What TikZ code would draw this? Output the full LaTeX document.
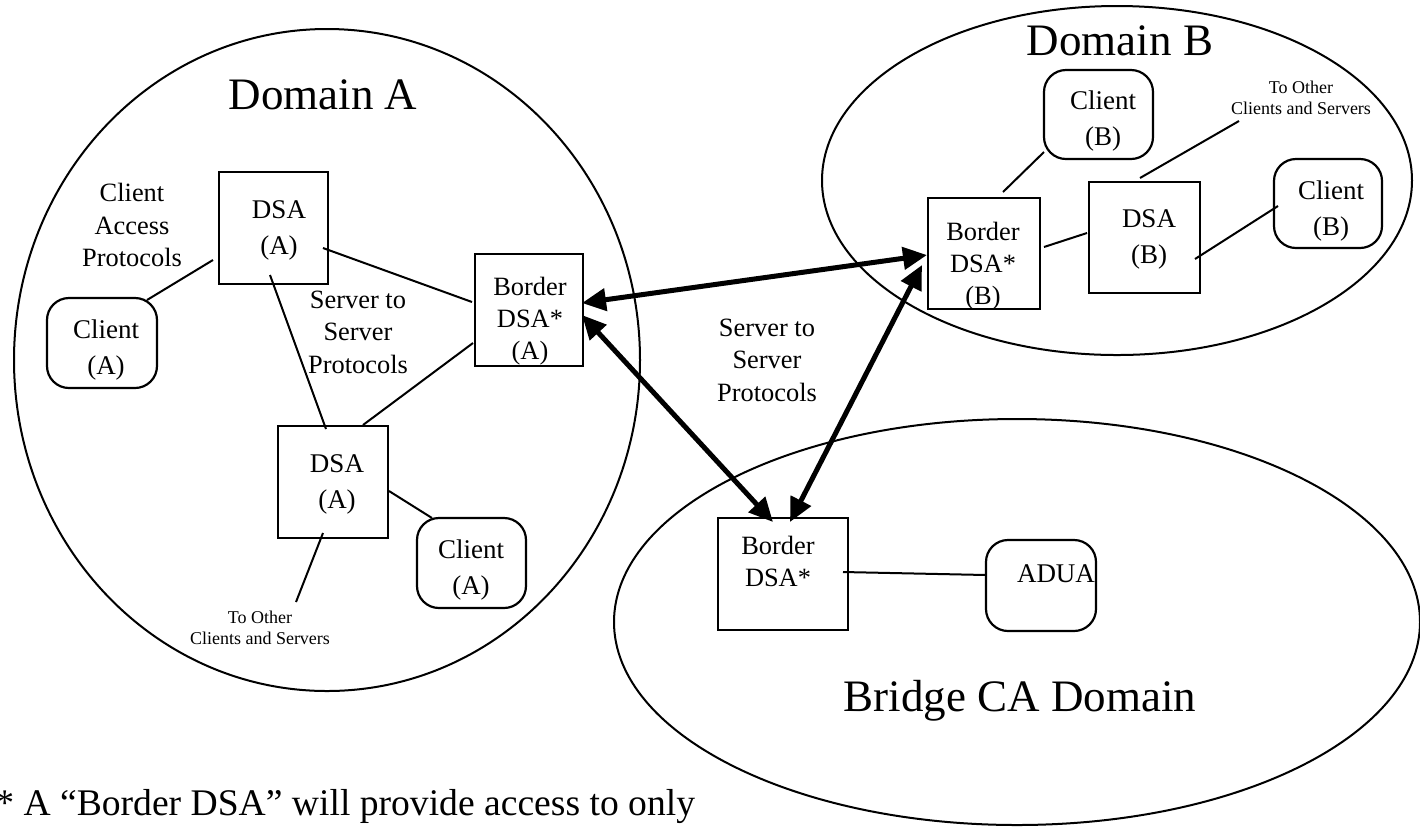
\documentclass[tikz,border=0pt]{standalone}
\usepackage{fontspec}
\setmainfont{Liberation Serif}
\usetikzlibrary{arrows.meta,calc}
\begin{document}
\begin{tikzpicture}[x=0.5pt,y=-0.5pt,
  dom/.style={line width=1pt},
  box/.style={draw, line width=1.1pt, inner sep=0pt},
  cli/.style={box, rounded corners=11pt},
  btxt/.style={align=center, inner sep=0pt, font=\fontsize{13.5}{18}\selectfont},
  bdtxt/.style={align=center, inner sep=0pt, font=\fontsize{13.2}{16}\selectfont},
  lbl/.style={align=center, inner sep=0pt, font=\fontsize{13.2}{16.2}\selectfont},
  small/.style={align=center, inner sep=0pt, font=\fontsize{9}{10.6}\selectfont},
  big/.style={inner sep=0pt, anchor=base, font=\fontsize{22.5}{27}\selectfont},
  link/.style={line width=1pt},
  proto/.style={line width=2.5pt, {Triangle[length=12pt,width=11pt]}-{Triangle[length=12pt,width=11pt]}}
]
\useasboundingbox (0,0) rectangle (1420,827);

% domain outlines
\draw[dom] (327,360) ellipse [x radius=313, y radius=331];
\draw[dom] (1117,180.5) ellipse [x radius=295, y radius=174.5];
\draw[dom] (1017,622) ellipse [x radius=403, y radius=203];

% domain titles
\node[big] (tDomA) at (323,109) {Domain A};
\node[big] (tDomB) at (1120,55) {Domain B};
\node[big] (tBridge) at (1020,711) {Bridge CA Domain};

% Domain A
\node[box, minimum width=54.5pt, minimum height=56pt] (dA1) at (273.5,228) {};
\node[btxt] (tdA1) at (279,230) {DSA\\(A)};
\node[cli, minimum width=55pt, minimum height=45pt] (cA1) at (102,343) {};
\node[btxt] (tcA1) at (106,350) {Client\\(A)};
\node[box, minimum width=54pt, minimum height=56pt] (bA) at (529,310) {};
\node[bdtxt] (tbA) at (530,321) {Border\\DSA*\\(A)};
\node[box, minimum width=55pt, minimum height=56pt] (dA2) at (333,482) {};
\node[btxt] (tdA2) at (337,484) {DSA\\(A)};
\node[cli, minimum width=54.5pt, minimum height=45pt] (cA2) at (471.5,563) {};
\node[btxt] (tcA2) at (471,570) {Client\\(A)};

\node[lbl] (lCAP) at (132,225) {Client\\Access\\Protocols};
\node[lbl] (lSSA) at (358,332) {Server to\\Server\\Protocols};
\node[small] (lOthA) at (260,628) {To Other\\Clients and Servers};
\coordinate (toA) at (296,602);

% Domain B
\node[cli, minimum width=54.5pt, minimum height=44.5pt] (cB1) at (1098.5,114.5) {};
\node[btxt] (tcB1) at (1103,121) {Client\\(B)};
\node[box, minimum width=56pt, minimum height=55.5pt] (bB) at (984,253.5) {};
\node[bdtxt] (tbB) at (983,266) {Border\\DSA*\\(B)};
\node[box, minimum width=55.5pt, minimum height=55.5pt] (dB) at (1144.5,237.5) {};
\node[btxt] (tdB) at (1149,239) {DSA\\(B)};
\node[cli, minimum width=54pt, minimum height=44.5pt] (cB2) at (1328,203.5) {};
\node[btxt] (tcB2) at (1331,211) {Client\\(B)};
\node[small] (lOthB) at (1301,98) {To Other\\Clients and Servers};
\coordinate (toB) at (1239,121);

% Bridge CA domain
\node[box, minimum width=65pt, minimum height=56pt] (bC) at (783,574) {};
\node[bdtxt] (tbC) at (778,561) {Border\\DSA*};
\node[cli, minimum width=55pt, minimum height=45.5pt] (adua) at (1041,585.5) {};
\node[btxt] (tadua) at (1056,574) {ADUA};

\node[lbl] (lSSM) at (767,360) {Server to\\Server\\Protocols};

% local links
\draw[link] ($(dA1)+(-60.5,32)$) -- ($(cA1)+(45,-43)$);
\draw[link] ($(dA1)+(49.5,20)$) -- ($(bA)+(-57,-8)$);
\draw[link] ($(dA1)+(-3.5,47)$) -- ($(dA2)+(-7,-53)$);
\draw[link] ($(dA2)+(30,-57)$) -- ($(bA)+(-56,33)$);
\draw[link] ($(dA2)+(56,9)$) -- ($(cA2)+(-39.5,-45)$);
\draw[link] ($(dA2)+(-10,51)$) -- (toA);
\draw[link] ($(cB1)+(-54.5,37.5)$) -- ($(bB)+(19,-61.5)$);
\draw[link] ($(bB)+(60,-6.5)$) -- ($(dB)+(-57.5,-4.5)$);
\draw[link] ($(dB)+(-4.5,-59.5)$) -- (toB);
\draw[link] ($(dB)+(50.5,21.5)$) -- ($(cB2)+(-50,2.5)$);
\draw[link] ($(bC)+(60,-2)$) -- ($(adua)+(-55,-10.5)$);

% server to server links between border DSAs
\draw[proto] ($(bA)+(53,-7)$) -- ($(bB)+(-57,1.5)$);
\draw[proto] ($(bA)+(53,5)$) -- ($(bC)+(-10,-52)$);
\draw[proto] ($(bB)+(-62,11.5)$) -- ($(bC)+(7,-52)$);

% footnote
\node[inner sep=0pt, anchor=base west, font=\fontsize{18.8}{22}\selectfont] (foot) at (-5,815)
  {* A “Border DSA” will provide access to only};
\end{tikzpicture}
\end{document}
